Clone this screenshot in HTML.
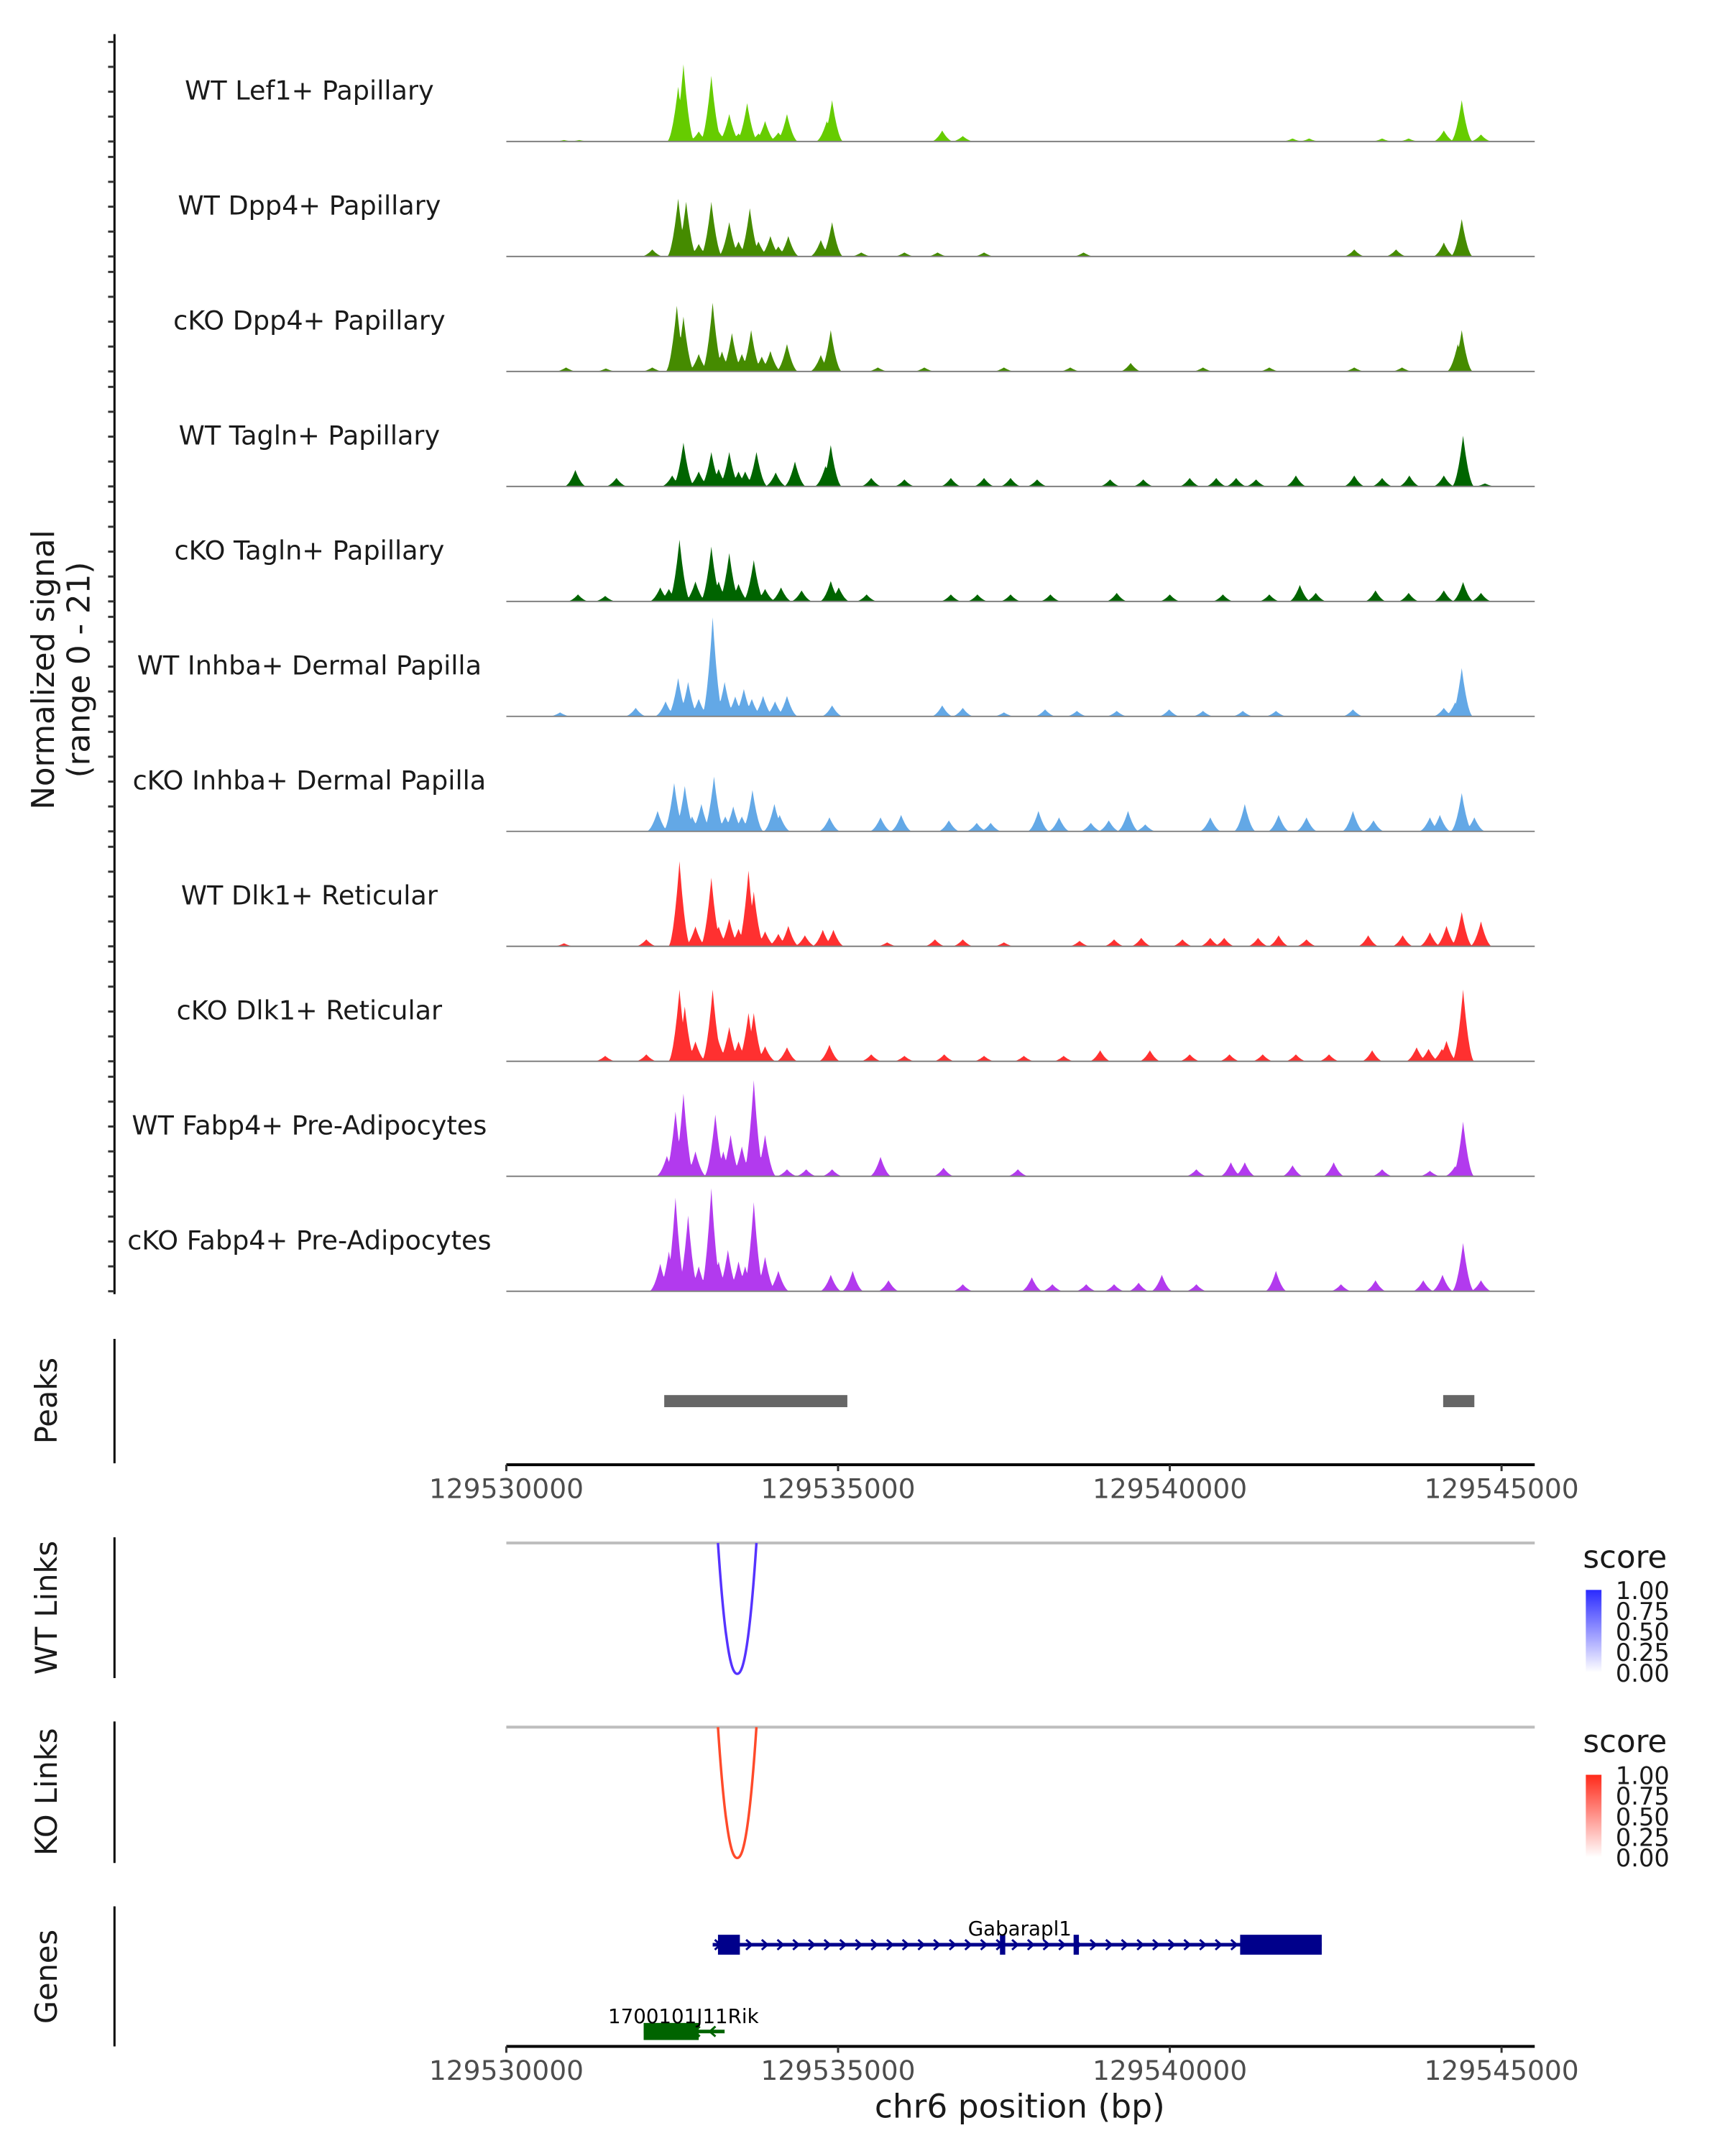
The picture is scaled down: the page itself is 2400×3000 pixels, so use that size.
<!DOCTYPE html>
<html><head><meta charset="utf-8"><style>
html,body{margin:0;padding:0;background:#fff;}
svg{display:block;font-family:"DejaVu Sans","Liberation Sans",sans-serif;}
</style></head><body>
<svg id="fig" width="2400" height="3000" viewBox="0 0 2400 3000" xmlns="http://www.w3.org/2000/svg">
<defs>
<linearGradient id="gBlue" x1="0" y1="1" x2="0" y2="0"><stop offset="0" stop-color="#ffffff"/><stop offset="1" stop-color="#2a2aff"/></linearGradient>
<linearGradient id="gRed" x1="0" y1="1" x2="0" y2="0"><stop offset="0" stop-color="#ffffff"/><stop offset="1" stop-color="#ff2a1a"/></linearGradient>
</defs>
<g transform="scale(0.9894)">
<g id="tracks"></g>
<line x1="161" y1="48" x2="161" y2="1820" stroke="#000" stroke-width="3"/>
<g id="yticks"></g>
<text transform="translate(76,942) rotate(-90)" text-anchor="middle" font-size="44" fill="#1a1a1a"><tspan x="0" dy="0">Normalized signal</tspan><tspan x="0" dy="50">(range 0 - 21)</tspan></text>

<line x1="161" y1="1883" x2="161" y2="2058" stroke="#000" stroke-width="3"/>
<text transform="translate(80,1970) rotate(-90)" text-anchor="middle" font-size="42" fill="#1a1a1a">Peaks</text>
<g id="peaks"></g>
<g id="axis1"></g>

<line x1="161" y1="2162" x2="161" y2="2360" stroke="#000" stroke-width="3"/>
<text transform="translate(80,2261) rotate(-90)" text-anchor="middle" font-size="42" fill="#1a1a1a">WT Links</text>
<line x1="161" y1="2421" x2="161" y2="2620" stroke="#000" stroke-width="3"/>
<text transform="translate(80,2520) rotate(-90)" text-anchor="middle" font-size="42" fill="#1a1a1a">KO Links</text>
<g id="links"></g>

<g>
<text x="2226" y="2205" font-size="44" fill="#1a1a1a">score</text>
<rect x="2230" y="2236" width="22" height="116" fill="url(#gBlue)"/>
<g font-size="34" fill="#1a1a1a">
<text x="2272" y="2249">1.00</text><text x="2272" y="2278">0.75</text><text x="2272" y="2307">0.50</text><text x="2272" y="2336">0.25</text><text x="2272" y="2365">0.00</text></g>
</g>
<g>
<text x="2226" y="2464" font-size="44" fill="#1a1a1a">score</text>
<rect x="2230" y="2496" width="22" height="116" fill="url(#gRed)"/>
<g font-size="34" fill="#1a1a1a">
<text x="2272" y="2509">1.00</text><text x="2272" y="2538">0.75</text><text x="2272" y="2567">0.50</text><text x="2272" y="2596">0.25</text><text x="2272" y="2625">0.00</text></g>
</g>

<line x1="161" y1="2681" x2="161" y2="2878" stroke="#000" stroke-width="3"/>
<text transform="translate(80,2780) rotate(-90)" text-anchor="middle" font-size="42" fill="#1a1a1a">Genes</text>
<g id="genes"></g>
<g id="axis2"></g>
<text x="1434" y="2978" text-anchor="middle" font-size="46" fill="#1a1a1a">chr6 position (bp)</text>
</g>
</svg>
<script>
// region: 129,530,000 + kb offsets
const START_BP = 129530000;
const trackNames = ["WT Lef1+ Papillary","WT Dpp4+ Papillary","cKO Dpp4+ Papillary","WT Tagln+ Papillary","cKO Tagln+ Papillary","WT Inhba+ Dermal Papilla","cKO Inhba+ Dermal Papilla","WT Dlk1+ Reticular","cKO Dlk1+ Reticular","WT Fabp4+ Pre-Adipocytes","cKO Fabp4+ Pre-Adipocytes"];
const trackColors = ["#66cc00","#458b00","#458b00","#006400","#006400","#63a8e6","#63a8e6","#ff3030","#ff3030","#b23aee","#b23aee"];
const pos1 = [0.87,1.1,2.59,2.67,3.09,3.36,3.63,3.9,4.23,4.83,4.91,6.57,6.88,11.85,12.1,13.2,13.6,14.13,14.40,14.69,2.9,3.2,3.5,3.8,4.1];
const val1 = [0.3,0.3,11,15.5,13.2,5.5,7.7,4.1,5.5,4.1,8.3,2.2,1.1,0.6,0.6,0.6,0.6,2.2,8.3,1.4,2,2,1.6,1.6,1.8];
const pos2 = [2.2,2.59,2.71,3.09,3.36,3.67,3.98,4.25,4.74,4.91,5.35,6,6.5,7.2,8.7,12.78,13.41,14.13,14.40,2.9,3.5,3.8,4.1];
const val2 = [1.4,11.6,11,11,6.9,9.7,4.1,4.1,3.3,6.9,0.8,0.8,0.8,0.8,0.8,1.4,1.4,2.8,7.5,2.5,3,3,2];
const pos3 = [0.9,1.5,2.2,2.57,2.67,3.11,3.40,3.69,3.98,4.23,4.74,4.89,5.6,6.3,7.5,8.5,9.41,10.5,11.5,12.78,13.5,14.34,14.40,2.9,3.25,3.55,3.85];
const val3 = [0.8,0.6,0.8,13.2,11,13.8,7.7,8.3,4.1,5.5,3.3,8.3,0.8,0.8,0.8,0.8,1.7,0.8,0.8,0.8,0.8,5.5,8.3,3.5,4,3.5,3];
const pos4 = [1.04,1.66,2.5,2.67,3.09,3.36,3.77,4.06,4.35,4.81,4.89,5.5,6.0,6.7,7.2,7.6,8.0,9.1,9.6,10.3,10.7,11.0,11.3,11.9,12.78,13.2,13.61,14.13,14.42,14.75,2.9,3.2,3.5,3.6];
const val4 = [3.3,1.7,2.2,8.8,6.9,6.9,6.9,2.8,5,4.1,8.3,1.7,1.4,1.7,1.7,1.7,1.4,1.4,1.4,1.7,1.7,1.7,1.4,2.2,2.2,1.7,2.2,2.2,10.2,0.6,3,3.5,3,3];
const pos5 = [1.08,1.49,2.32,2.61,3.09,3.36,3.73,4.14,4.45,4.89,5.01,5.43,6.7,7.1,7.6,8.2,9.2,10.0,10.8,11.5,11.96,12.2,13.1,13.6,14.13,14.42,14.69,2.85,3.2,3.5,3.9,2.45];
const val5 = [1.4,1.1,2.8,12.4,11,9.7,8.3,2.8,2.2,4.1,2.8,1.4,1.4,1.4,1.4,1.4,1.7,1.4,1.4,1.4,3.3,1.7,2.2,1.7,2.2,3.9,1.7,4,4,3.5,2.5,2.5];
const pos6 = [0.81,1.95,2.59,2.74,3.11,3.29,3.58,3.87,4.23,4.91,6.57,6.88,7.5,8.12,8.6,9.2,9.99,10.5,11.1,11.6,12.76,14.13,14.30,14.40,2.4,2.9,3.45,3.7,4.05];
const val6 = [0.8,1.7,7.7,6.9,19.9,6.9,5.5,4.1,4.1,2.2,2.2,1.7,0.8,1.4,1.1,1.1,1.4,1.1,1.1,1.1,1.4,1.7,2.8,9.7,3,3.5,4,3.5,3];
const pos7 = [2.28,2.53,2.69,2.94,3.13,3.42,3.71,4.04,4.12,4.87,5.64,5.95,6.67,7.09,7.3,8.02,8.33,8.81,9.08,9.37,9.63,10.61,11.13,11.64,12.06,12.76,13.07,13.92,14.07,14.40,14.59,2.8,3.3,3.55];
const val7 = [4.1,9.7,9.1,5.5,11,5,8.3,5.5,3.3,2.8,2.8,3.3,2.2,1.7,1.7,4.1,2.8,1.7,2.2,4.1,1.4,2.8,5.5,3.3,2.8,4.1,2.2,2.8,3.3,7.7,2.8,3,3,3];
const pos8 = [0.87,2.11,2.61,3.09,3.36,3.65,3.73,4.25,4.50,4.77,4.93,5.74,6.46,6.88,7.50,8.64,9.16,9.57,10.19,10.61,10.82,11.33,11.64,12.06,12.99,13.51,13.92,14.17,14.40,14.69,2.85,3.2,3.5,3.9,4.1];
const val8 = [0.6,1.4,17.1,13.8,5.5,15.2,11,4.1,2.2,3.3,3.3,0.8,1.4,1.4,0.8,1.1,1.4,1.7,1.4,1.7,1.7,1.7,2.2,1.4,2.2,2.2,2.8,4.1,6.9,5,4,4,3.5,3,2.5];
const pos9 = [1.49,2.11,2.61,2.69,3.11,3.36,3.65,3.73,4.23,4.87,5.5,6.0,6.6,7.2,7.8,8.4,8.95,9.70,10.3,10.9,11.4,11.9,12.4,13.05,13.72,14.17,14.42,2.85,3.2,3.5,3.9,13.9,14.1];
const val9 = [1.1,1.4,14.4,11,14.4,6.9,9.7,9.7,2.8,3.3,1.4,1.1,1.4,1.1,1.1,1.1,2.2,2.2,1.4,1.4,1.4,1.4,1.4,2.2,2.8,4.1,14.4,4,4,4,3,2.5,2.5];
const pos10 = [2.42,2.67,2.55,3.15,3.38,3.73,3.90,4.23,4.52,4.91,5.64,6.59,7.71,10.40,10.92,11.13,11.85,12.47,13.20,13.92,14.42,2.85,3.27,3.55,3.8,14.3];
const val10 = [4.1,16.6,13,12.4,8.3,19.3,8.3,1.4,1.4,1.4,3.9,1.7,1.4,1.4,2.8,2.8,2.2,2.8,1.4,1.1,11,5,5,6,4,2];
const pos11 = [2.32,2.55,2.74,3.09,3.34,3.73,3.90,4.10,4.89,5.22,5.76,6.88,7.92,8.23,8.74,9.16,9.53,9.88,10.40,11.60,12.58,13.10,13.82,14.11,14.42,14.69,2.45,2.9,3.2,3.5,3.6];
const val11 = [5.5,18.8,15.2,20.7,8.3,17.9,6.9,4.1,3.3,4.1,2.2,1.4,2.8,1.4,1.4,1.4,1.7,3.3,1.4,4.1,1.4,2.2,2.2,3.3,9.7,2.2,8,5,6,6,5];
const trackPos = [pos1,pos2,pos3,pos4,pos5,pos6,pos7,pos8,pos9,pos10,pos11];
const trackVal = [val1,val2,val3,val4,val5,val6,val7,val8,val9,val10,val11];
const xTicks = [0,5,10,15];
const xTickLabels = ["129530000","129535000","129540000","129545000"];
const peakStart = [2.38,14.12];
const peakEnd = [5.14,14.59];
const linkStart = [3.19];
const linkEnd = [3.77];
const linkScore = [0.8];
const geneNames = ["Gabarapl1","1700101J11Rik"];
const geneStart = [3.11,2.07];
const geneEnd = [12.29,3.29];
const geneStrand = [1,-1];
const gabExonStart = [3.19,7.44,8.55,11.06];
const gabExonEnd = [3.52,7.52,8.63,12.29];
const rikExonStart = [2.07];
const rikExonEnd = [2.90];

const NS = "http://www.w3.org/2000/svg";
const X0 = 712, PXKB = 93.3;
function xs(kb){ return X0 + kb*PXKB; }
const BASE0 = 199, TRACKH = 161.7, PXV = 7;
function base(i){ return BASE0 + i*TRACKH; }
function mk(tag, attrs, parent){ const e=document.createElementNS(NS,tag); for(const k in attrs) e.setAttribute(k,attrs[k]); parent.appendChild(e); return e; }

const tracks = document.getElementById('tracks');
const W = 0.17;
for(let i=0;i<11;i++){
  const g = mk('g',{},tracks);
  
  
  const b = base(i);
  const lab = mk('text',{x:435,y:b-59,'text-anchor':'middle','font-size':37,fill:'#1a1a1a'},g);
  lab.textContent = trackNames[i];
  
  
  const P = trackPos[i], V = trackVal[i];
  let d = 'M'+xs(0)+','+b;
  for(let kb=0; kb<=15.5; kb+=0.01){
    let v=0;
    for(let j=0;j<P.length;j++){
      const t = Math.abs(kb-P[j])/W;
      if(t<1){ const f=V[j]*Math.pow(1-t,1.8); if(f>v) v=f; }
    }
    v = Math.min(v,21);
    d += 'L'+xs(kb).toFixed(1)+','+(b - v*PXV).toFixed(1);
  }
  d += 'L'+xs(15.5)+','+b+'Z';
  const area = mk('path',{d:d,fill:trackColors[i]},g);
  
  
  const bl = mk('line',{x1:xs(0),x2:xs(15.5),y1:b,y2:b,stroke:'#808080','stroke-width':2},g);
  
  
}
const yt = document.getElementById('yticks');
for(let i=0;i<11;i++){
  for(let k=0;k<5;k++){
    const y = base(i) - k*5*PXV;
    const t = mk('line',{x1:152,x2:161,y1:y,y2:y,stroke:'#333','stroke-width':3},yt);
    
    
  }
}
const pk = document.getElementById('peaks');
for(let i=0;i<peakStart.length;i++){
  const r = mk('rect',{x:xs(peakStart[i]),y:1962,width:xs(peakEnd[i])-xs(peakStart[i]),height:17,fill:'#666666'},pk);
  
  
}
function axis(id, y){
  const g = document.getElementById(id);
  const l = mk('line',{x1:xs(0),x2:xs(15.5),y1:y,y2:y,stroke:'#000','stroke-width':4},g);
  
  
  for(let i=0;i<xTicks.length;i++){
    const x = xs(xTicks[i]);
    const t = mk('line',{x1:x,x2:x,y1:y,y2:y+9,stroke:'#333','stroke-width':3},g);
    
    
    const tx = mk('text',{x:x,y:y+47,'text-anchor':'middle','font-size':38,fill:'#4d4d4d'},g);
    tx.textContent = xTickLabels[i];
    
    
  }
}
axis('axis1', 2060);
axis('axis2', 2878);
const lk = document.getElementById('links');
const linkTracks = [{top:2170,bot:2354,col:'#5533ff'},{top:2429,bot:2613,col:'#ff4a2a'}];
linkTracks.forEach((lt,ti)=>{
  const gl = mk('line',{x1:xs(0),x2:xs(15.5),y1:lt.top,y2:lt.top,stroke:'#bebebe','stroke-width':4},lk);
  
  
  for(let i=0;i<linkStart.length;i++){
    const x1=xs(linkStart[i]), x2=xs(linkEnd[i]);
    const depth = (lt.bot-lt.top);
    let d='';
    for(let s=0;s<=60;s++){
      const u=s/60, x=x1+(x2-x1)*u;
      const y=lt.top + depth*(1-Math.pow(Math.abs(2*u-1),2.2));
      d += (s?'L':'M')+x.toFixed(1)+','+y.toFixed(1);
    }
    const p = mk('path',{d:d,fill:'none',stroke:lt.col,'stroke-width':3.5},lk);
    
    
  }
});
const gn = document.getElementById('genes');
function drawGene(idx, y, col, exS, exE, h){
  const g = mk('g',{},gn);
  
  
  const x1=xs(geneStart[idx]), x2=xs(geneEnd[idx]);
  mk('line',{x1:x1,x2:x2,y1:y,y2:y,stroke:col,'stroke-width':5},g);
  const dir = geneStrand[idx];
  for(let x=x1+8; x<x2-4; x+=22){
    mk('path',{d:'M'+(x-5*dir)+','+(y-7)+'L'+(x+3*dir)+','+y+'L'+(x-5*dir)+','+(y+7),fill:'none',stroke:col,'stroke-width':3},g);
  }
  for(let i=0;i<exS.length;i++){
    const w = Math.max(xs(exE[i])-xs(exS[i]),6);
    mk('rect',{x:xs(exS[i]),y:y-h/2,width:w,height:h,fill:col},g);
  }
  return g;
}
drawGene(0, 2735, '#00008b', gabExonStart, gabExonEnd, 28);
drawGene(1, 2857, '#006400', rikExonStart, rikExonEnd, 24);
const l1 = mk('text',{x:1434,y:2722,'text-anchor':'middle','font-size':28,fill:'#000'},gn);
l1.textContent = geneNames[0];


const l2 = mk('text',{x:961,y:2845,'text-anchor':'middle','font-size':28,fill:'#000'},gn);
l2.textContent = geneNames[1];


</script>
</body></html>
